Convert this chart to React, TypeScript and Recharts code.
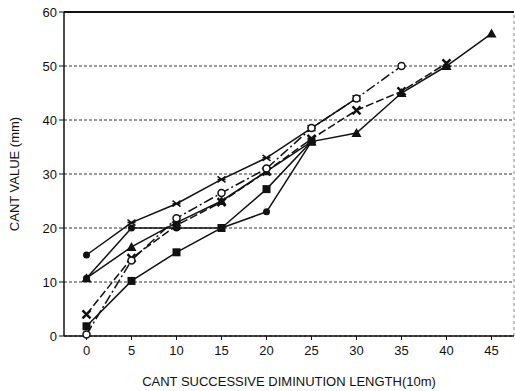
import { LineChart, Line, XAxis, YAxis, CartesianGrid, ReferenceLine, Label } from 'recharts'

const lengths = [0, 5, 10, 15, 20, 25, 30, 35, 40, 45]
const topLine = [15, 21, 24.5, 29, 33, 38.5, 44, null, null, null]
const circleLine = [10.7, 20, 20, 20, 23, 36, null, null, null, null]
const triangleLine = [10.7, 16.5, 21, 25, 30.5, 36, 37.6, 45, 50, 56]
const crossLine = [4, 14.4, 20.5, 24.8, 30.5, 36.5, 41.8, 45.3, 50.5, null]
const squareLine = [1.8, 10.2, 15.5, 20, 27.2, 36, null, null, null, null]
const hollowLine = [0.3, 14, 21.8, 26.5, 31, 38.5, 44, 50, null, null]
const yTicks = [0, 10, 20, 30, 40, 50, 60]

const data = lengths.map((len, i) => ({
    len,
    top: topLine[i],
    circle: circleLine[i],
    triangle: triangleLine[i],
    cross: crossLine[i],
    square: squareLine[i],
    hollow: hollowLine[i],
}))

const ink = '#111'

function Marker(kind: string) {
    return (props: any) => {
        const { cx, cy, value, index } = props
        if (value == null || cx == null || cy == null) return <g key={index} />
        if (kind === 'circle') return <circle key={index} cx={cx} cy={cy} r={3.5} fill={ink} />
        if (kind === 'hollow') return <circle key={index} cx={cx} cy={cy} r={3.5} fill="#fff" stroke={ink} strokeWidth={1.5} />
        if (kind === 'square') return <rect key={index} x={cx - 4} y={cy - 4} width={8} height={8} fill={ink} />
        if (kind === 'triangle')
            return <polygon key={index} points={`${cx},${cy - 5} ${cx - 5},${cy + 4} ${cx + 5},${cy + 4}`} fill={ink} />
        if (kind === 'cross')
            return (
                <path key={index} d={`M${cx - 4},${cy - 4}L${cx + 4},${cy + 4}M${cx + 4},${cy - 4}L${cx - 4},${cy + 4}`}
                    stroke={ink} strokeWidth={2.5} />
            )
        // small star-ish mark, the first one looks like a dot in the scan
        if (index === 0) return <circle key={index} cx={cx} cy={cy} r={3.5} fill={ink} />
        return (
            <path key={index} d={`M${cx - 4},${cy - 3}L${cx + 4},${cy + 3}M${cx + 4},${cy - 3}L${cx - 4},${cy + 3}M${cx - 4},${cy}L${cx + 4},${cy}`}
                stroke={ink} strokeWidth={1.5} />
        )
    }
}

const series = [
    { key: 'top', kind: 'star', dash: undefined },
    { key: 'circle', kind: 'circle', dash: undefined },
    { key: 'triangle', kind: 'triangle', dash: undefined },
    { key: 'cross', kind: 'cross', dash: '8 3' },
    { key: 'square', kind: 'square', dash: undefined },
    { key: 'hollow', kind: 'hollow', dash: '10 3 2 3' },
]

export default function App() {
    return (
        <div style={{ position: 'absolute', left: 0, top: 0, background: '#fff' }}>
            <LineChart width={515} height={391} data={data}
                margin={{ top: 12, right: 1, left: 0, bottom: 0 }}
                style={{ fontFamily: '"Liberation Sans", Arial, sans-serif' }}>
                <CartesianGrid vertical={false} stroke="#333" strokeDasharray="3 2" />
                <ReferenceLine y={60} stroke={ink} strokeWidth={2} />
                <ReferenceLine x={47.5} stroke="#888" strokeDasharray="3 3" />
                <XAxis dataKey="len" type="number" domain={[-2.5, 47.5]} ticks={lengths}
                    height={55} tick={{ fill: ink, fontSize: 13 }} tickSize={4} tickMargin={6}
                    axisLine={{ stroke: ink, strokeWidth: 1.5 }} tickLine={{ stroke: ink }}>
                    <Label value="CANT SUCCESSIVE DIMINUTION LENGTH(10m)" position="insideBottom" offset={5}
                        style={{ fill: ink, fontSize: 13 }} />
                </XAxis>
                <YAxis type="number" domain={[0, 60]} ticks={yTicks} width={64}
                    tick={{ fill: ink, fontSize: 13 }} tickSize={5}
                    axisLine={{ stroke: ink, strokeWidth: 1.5 }} tickLine={{ stroke: ink }}>
                    <Label value="CANT VALUE (mm)" angle={-90} position="insideLeft" offset={14}
                        style={{ fill: ink, fontSize: 13, textAnchor: 'middle' }} />
                </YAxis>
                {series.map((s) => (
                    <Line key={s.key} type="linear" dataKey={s.key} stroke={ink} strokeWidth={1.5}
                        strokeDasharray={s.dash} dot={Marker(s.kind)} activeDot={false}
                        connectNulls={false} isAnimationActive={false} />
                ))}
            </LineChart>
        </div>
    )
}
